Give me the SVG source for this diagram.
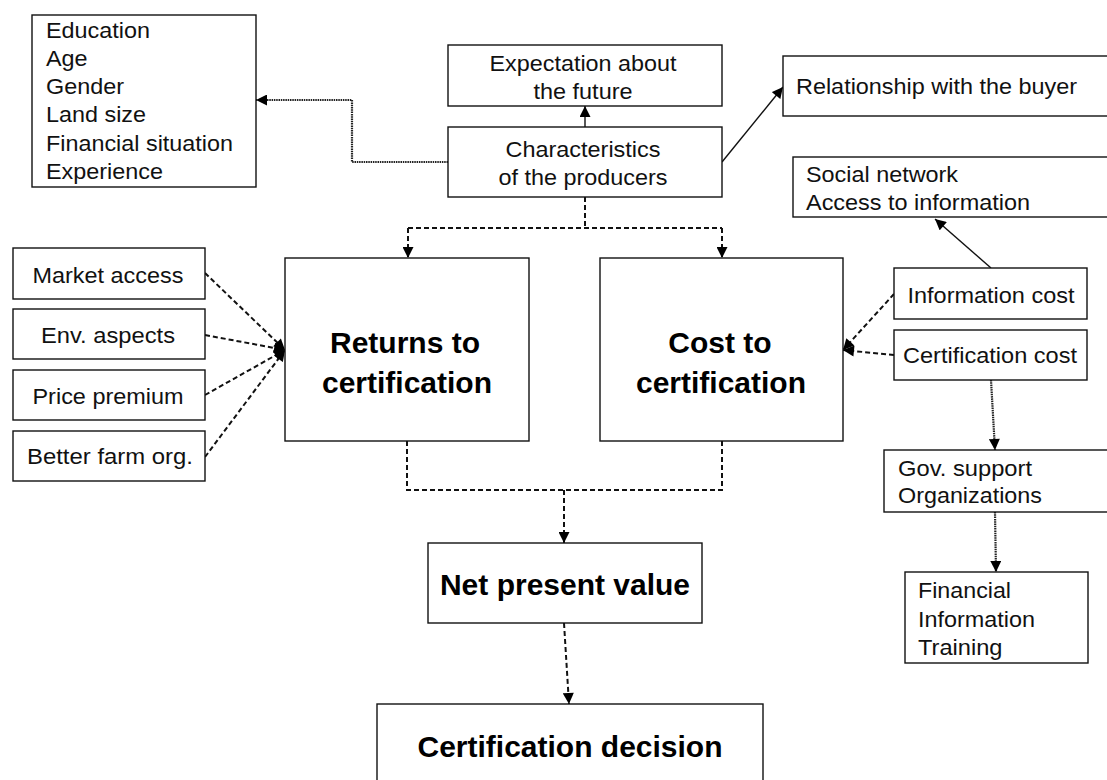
<svg xmlns="http://www.w3.org/2000/svg" width="1107" height="780" viewBox="0 0 1107 780">
  <style>
    .box { fill: #ffffff; stroke: #111111; stroke-width: 1.4; }
    .t { font-family: "Liberation Sans", Arial, sans-serif; font-size: 22px; fill: #111111; }
    .c { text-anchor: middle; }
    .b { font-family: "Liberation Sans", Arial, sans-serif; font-size: 30px; font-weight: bold; fill: #000000; text-anchor: middle; }
    .solid { fill: none; stroke: #111111; stroke-width: 1.4; }
    .dash { fill: none; stroke: #111111; stroke-width: 2; stroke-dasharray: 5 3; }
    .dot { fill: none; stroke: #222222; stroke-width: 2.2; stroke-dasharray: 1.5 0.8; }
  </style>
  <defs>
    <marker id="arrow" viewBox="0 0 10 10" refX="10" refY="5" markerWidth="12" markerHeight="11" markerUnits="userSpaceOnUse" orient="auto">
      <path d="M0,0 L10,5 L0,10 Z" fill="#000000"/>
    </marker>
  </defs>

  <rect width="1107" height="780" fill="#ffffff"/>

  <!-- connectors -->
  <g id="connectors">
    <!-- producer characteristics to attribute list -->
    <polyline class="dot" points="448,162 352,162 352,100 256,100" marker-end="url(#arrow)"/>
    <!-- characteristics to expectation -->
    <line class="solid" x1="585" y1="127" x2="585" y2="106" stroke-width="2" marker-end="url(#arrow)"/>
    <!-- characteristics to relationship -->
    <line class="solid" x1="722" y1="162" x2="783" y2="87" marker-end="url(#arrow)"/>
    <!-- information cost to social network -->
    <line class="solid" x1="991" y1="268" x2="935" y2="219" marker-end="url(#arrow)"/>
    <!-- characteristics split to returns and cost -->
    <polyline class="dash" points="585,197 585,228"/>
    <polyline class="dash" points="408,228 722,228"/>
    <polyline class="dash" points="408,228 408,258" marker-end="url(#arrow)"/>
    <polyline class="dash" points="722,228 722,258" marker-end="url(#arrow)"/>
    <!-- returns drivers -->
    <line class="dash" x1="205" y1="273" x2="285" y2="350" marker-end="url(#arrow)"/>
    <line class="dash" x1="205" y1="335" x2="285" y2="350" marker-end="url(#arrow)"/>
    <line class="dash" x1="205" y1="395" x2="285" y2="350" marker-end="url(#arrow)"/>
    <line class="dash" x1="205" y1="457" x2="285" y2="350" marker-end="url(#arrow)"/>
    <!-- cost drivers -->
    <line class="dash" x1="894" y1="294" x2="843" y2="350" marker-end="url(#arrow)"/>
    <line class="dash" x1="894" y1="355" x2="843" y2="350" marker-end="url(#arrow)"/>
    <!-- returns and cost merge into NPV -->
    <polyline class="dash" points="407,441 407,490 722,490 722,441"/>
    <polyline class="dash" points="564,490 564,543" marker-end="url(#arrow)"/>
    <!-- NPV to decision -->
    <line class="dash" x1="564" y1="623" x2="569" y2="704" marker-end="url(#arrow)"/>
    <!-- certification cost to support and services -->
    <line class="dot" x1="991" y1="380" x2="995" y2="450" marker-end="url(#arrow)"/>
    <line class="dot" x1="995" y1="512" x2="996" y2="572" marker-end="url(#arrow)"/>
  </g>

  <g id="attributes">
    <rect class="box" x="32" y="15" width="224" height="172"/>
    <text class="t" x="46" y="38" textLength="104" lengthAdjust="spacingAndGlyphs">Education</text>
    <text class="t" x="46" y="66" textLength="41.6" lengthAdjust="spacingAndGlyphs">Age</text>
    <text class="t" x="46" y="94" textLength="78" lengthAdjust="spacingAndGlyphs">Gender</text>
    <text class="t" x="46" y="122" textLength="100" lengthAdjust="spacingAndGlyphs">Land size</text>
    <text class="t" x="46" y="151" textLength="187" lengthAdjust="spacingAndGlyphs">Financial situation</text>
    <text class="t" x="46" y="179" textLength="117" lengthAdjust="spacingAndGlyphs">Experience</text>
  </g>

  <g id="expectation">
    <rect class="box" x="448" y="45" width="274" height="61"/>
    <text class="t c" x="583" y="71" textLength="187" lengthAdjust="spacingAndGlyphs">Expectation about</text>
    <text class="t c" x="583" y="99" textLength="99" lengthAdjust="spacingAndGlyphs">the future</text>
  </g>

  <g id="characteristics">
    <rect class="box" x="448" y="127" width="274" height="70"/>
    <text class="t c" x="583" y="157" textLength="155" lengthAdjust="spacingAndGlyphs">Characteristics</text>
    <text class="t c" x="583" y="185" textLength="169" lengthAdjust="spacingAndGlyphs">of the producers</text>
  </g>

  <g id="relationship">
    <rect class="box" x="783" y="56" width="340" height="60"/>
    <text class="t" x="796" y="94" textLength="281" lengthAdjust="spacingAndGlyphs">Relationship with the buyer</text>
  </g>

  <g id="social">
    <rect class="box" x="793" y="157" width="330" height="60"/>
    <text class="t" x="806" y="182" textLength="152" lengthAdjust="spacingAndGlyphs">Social network</text>
    <text class="t" x="806" y="210" textLength="224" lengthAdjust="spacingAndGlyphs">Access to information</text>
  </g>

  <g id="market-access">
    <rect class="box" x="13" y="248" width="192" height="51"/>
    <text class="t c" x="108" y="283" textLength="151" lengthAdjust="spacingAndGlyphs">Market access</text>
  </g>
  <g id="env-aspects">
    <rect class="box" x="13" y="309" width="192" height="50"/>
    <text class="t c" x="108" y="343" textLength="134" lengthAdjust="spacingAndGlyphs">Env. aspects</text>
  </g>
  <g id="price-premium">
    <rect class="box" x="13" y="370" width="192" height="50"/>
    <text class="t c" x="108" y="404" textLength="151" lengthAdjust="spacingAndGlyphs">Price premium</text>
  </g>
  <g id="better-farm">
    <rect class="box" x="13" y="431" width="192" height="50"/>
    <text class="t c" x="110" y="464" textLength="166" lengthAdjust="spacingAndGlyphs">Better farm org.</text>
  </g>

  <g id="returns">
    <rect class="box" x="285" y="258" width="244" height="183"/>
    <text class="b" x="405" y="353">Returns to</text>
    <text class="b" x="407" y="393">certification</text>
  </g>

  <g id="cost">
    <rect class="box" x="600" y="258" width="243" height="183"/>
    <text class="b" x="720" y="353">Cost to</text>
    <text class="b" x="721" y="393">certification</text>
  </g>

  <g id="information-cost">
    <rect class="box" x="894" y="268" width="193" height="51"/>
    <text class="t c" x="991" y="303" textLength="167" lengthAdjust="spacingAndGlyphs">Information cost</text>
  </g>

  <g id="certification-cost">
    <rect class="box" x="894" y="330" width="193" height="50"/>
    <text class="t c" x="990" y="363" textLength="174" lengthAdjust="spacingAndGlyphs">Certification cost</text>
  </g>

  <g id="gov-support">
    <rect class="box" x="884" y="450" width="240" height="62"/>
    <text class="t" x="898" y="476" textLength="134" lengthAdjust="spacingAndGlyphs">Gov. support</text>
    <text class="t" x="898" y="503" textLength="144" lengthAdjust="spacingAndGlyphs">Organizations</text>
  </g>

  <g id="services">
    <rect class="box" x="905" y="572" width="183" height="91"/>
    <text class="t" x="918" y="598" textLength="93" lengthAdjust="spacingAndGlyphs">Financial</text>
    <text class="t" x="918" y="627" textLength="117" lengthAdjust="spacingAndGlyphs">Information</text>
    <text class="t" x="918" y="655" textLength="84.5" lengthAdjust="spacingAndGlyphs">Training</text>
  </g>

  <g id="npv">
    <rect class="box" x="428" y="543" width="274" height="80"/>
    <text class="b" x="565" y="595">Net present value</text>
  </g>

  <g id="decision">
    <rect class="box" x="377" y="704" width="386" height="90"/>
    <text class="b" x="570" y="757">Certification decision</text>
  </g>
</svg>
